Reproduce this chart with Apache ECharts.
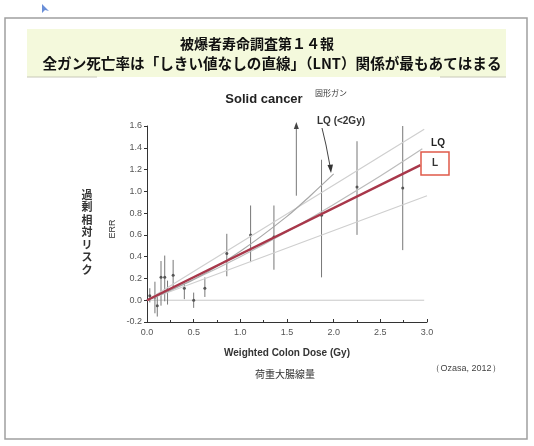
<!DOCTYPE html>
<html>
<head>
<meta charset="utf-8">
<script src="https://cdn.jsdelivr.net/npm/echarts@6/dist/echarts.min.js"></script>
<style>
  html, body { margin: 0; padding: 0; background: #fff; }
  #chart { width: 534px; height: 446px; }
</style>
</head>
<body>
<div id="chart"></div>
<script>
// Dose categories (Gy) with ERR point estimates and 95% CI
const doses    = [0.03, 0.085, 0.11, 0.15, 0.19, 0.22, 0.28, 0.40, 0.50, 0.62, 0.855, 1.11, 1.36, 1.60, 1.87, 2.25, 2.74];
const errPoint = [0.04, 0.03, -0.05, 0.21, 0.21, 0.09, 0.23, 0.11, 0.00, 0.11, 0.43, 0.60, 0.58, null, 0.78, 1.04, 1.03];
const errLower = [-0.02, -0.12, -0.15, -0.05, -0.01, -0.04, 0.12, 0.01, -0.07, 0.03, 0.22, 0.35, 0.28, 0.96, 0.21, 0.60, 0.46];
const errUpper = [0.11, 0.17, 0.04, 0.36, 0.41, 0.18, 0.37, 0.17, 0.07, 0.21, 0.61, 0.87, 0.87, 1.61, 1.29, 1.46, 1.60];
const openTop  = [false, false, false, false, false, false, false, false, false, false, false, false, false, true, false, false, false];

// Fitted models
const linDose = [0, 2.93];
const linErr  = [0, 1.24];
const ciUpperDose = [0, 2.97];
const ciUpperErr  = [0, 1.57];
const ciLowerDose = [0, 3.0];
const ciLowerErr  = [0, 0.96];
const lqDose = [0, 0.5, 1.0, 1.5, 2.0, 2.5, 2.95];
const lqErr  = [0, 0.19, 0.40, 0.63, 0.88, 1.14, 1.39];
const lq2Dose = [0, 0.5, 1.0, 1.5, 1.75, 2.0];
const lq2Err  = [0, 0.19, 0.45, 0.77, 0.96, 1.16];
const zeroDose = [0, 2.97];
const zeroErr  = [0, 0];

// Axis ticks
const xTicks = { min: 0, max: 3.0, step: 0.5 };
const yTicks = { min: -0.2, max: 1.6, step: 0.2 };

const pairs = (xs, ys) => xs.map((x, i) => [x, ys[i]]);
const JP = '"Noto Sans CJK JP", sans-serif';
const LAT = '"Liberation Sans", Arial, sans-serif';

const chart = echarts.init(document.getElementById('chart'), null, { renderer: 'canvas' });

const errData = doses.map((d, i) => [d, errPoint[i] === null ? NaN : errPoint[i], errLower[i], errUpper[i], openTop[i] ? 1 : 0]);

function thinLine(color, width) {
  return { color: color, width: width };
}

chart.setOption({
  animation: false,
  backgroundColor: '#ffffff',
  grid: { left: 147, right: 107, top: 126, bottom: 124 },
  xAxis: {
    type: 'value',
    min: xTicks.min, max: xTicks.max, interval: xTicks.step,
    axisLine: { onZero: false, lineStyle: { color: '#333', width: 1 } },
    axisTick: { inside: true, length: 3, lineStyle: { color: '#333' } },
    minorTick: { show: true, splitNumber: 2, length: 2, lineStyle: { color: '#333' } },
    splitLine: { show: false },
    axisLabel: { color: '#555', fontSize: 9, fontFamily: LAT, margin: 6, formatter: v => v.toFixed(1) }
  },
  yAxis: {
    type: 'value',
    min: yTicks.min, max: yTicks.max, interval: yTicks.step,
    axisLine: { show: true, onZero: false, lineStyle: { color: '#333', width: 1 } },
    axisTick: { show: true, length: 3, lineStyle: { color: '#333' } },
    splitLine: { show: false },
    axisLabel: { color: '#555', fontSize: 9, fontFamily: LAT, margin: 5, formatter: v => v.toFixed(1) }
  },
  series: [
    {
      type: 'line', data: pairs(zeroDose, zeroErr), showSymbol: false, silent: true,
      lineStyle: thinLine('#c8c8c8', 1), z: 1
    },
    {
      type: 'custom',
      data: errData,
      encode: { x: 0, y: [1, 2, 3] },
      clip: false,
      z: 2,
      renderItem: function (params, api) {
        const x = api.value(0);
        const v = api.value(1);
        const lo = api.coord([x, api.value(2)]);
        const hi = api.coord([x, api.value(3)]);
        const children = [{
          type: 'line',
          shape: { x1: lo[0], y1: lo[1], x2: hi[0], y2: hi[1] },
          style: { stroke: '#777', lineWidth: 1 }
        }];
        if (!isNaN(v)) {
          const p = api.coord([x, v]);
          children.push({ type: 'circle', shape: { cx: p[0], cy: p[1], r: 1.5 }, style: { fill: '#555' } });
        }
        if (api.value(4) === 1) {
          children.push({
            type: 'polygon',
            shape: { points: [[hi[0], hi[1] - 3], [hi[0] - 2.5, hi[1] + 4], [hi[0] + 2.5, hi[1] + 4]] },
            style: { fill: '#444' }
          });
        }
        return { type: 'group', children: children };
      }
    },
    {
      type: 'line', data: pairs(ciUpperDose, ciUpperErr), showSymbol: false, silent: true,
      lineStyle: thinLine('#cfcfcf', 1.2), z: 3
    },
    {
      type: 'line', data: pairs(ciLowerDose, ciLowerErr), showSymbol: false, silent: true,
      lineStyle: thinLine('#cfcfcf', 1.2), z: 3
    },
    {
      type: 'line', data: pairs(lqDose, lqErr), showSymbol: false, silent: true, smooth: 0.3,
      lineStyle: thinLine('#bcbcbc', 1.2), z: 3
    },
    {
      type: 'line', data: pairs(lq2Dose, lq2Err), showSymbol: false, silent: true, smooth: 0.3,
      lineStyle: thinLine('#a8a8a8', 1.2), z: 3
    },
    {
      type: 'line', data: pairs(linDose, linErr), showSymbol: false, silent: true,
      lineStyle: thinLine('#a8374a', 2.4), z: 4
    }
  ],
  graphic: [
    // slide frame
    { type: 'rect', shape: { x: 5, y: 18, width: 522, height: 421 }, style: { fill: 'none', stroke: '#a0a0a0', lineWidth: 1.5 }, z: 0 },
    // cursor mark
    { type: 'polygon', shape: { points: [[42, 4], [42, 13], [45, 10], [49, 11]] }, style: { fill: '#6a8fd8' } },
    // title box
    { type: 'rect', shape: { x: 27, y: 29, width: 479, height: 48 }, style: { fill: '#f4f9dc' }, z: 0 },
    { type: 'line', shape: { x1: 27, y1: 77, x2: 97, y2: 77 }, style: { stroke: '#c8c8b8', lineWidth: 1 } },
    { type: 'line', shape: { x1: 440, y1: 77, x2: 506, y2: 77 }, style: { stroke: '#c8c8b8', lineWidth: 1 } },
    { type: 'text', x: 257, y: 44, style: { text: '被爆者寿命調査第１４報', font: 'bold 14px ' + JP, fill: '#111', align: 'center', verticalAlign: 'middle' } },
    { type: 'text', x: 272, y: 63, style: { text: '全ガン死亡率は「しきい値なしの直線」（LNT）関係が最もあてはまる', font: 'bold 14.6px ' + JP, fill: '#111', align: 'center', verticalAlign: 'middle' } },
    // chart heading
    { type: 'text', x: 264, y: 99, style: { text: 'Solid cancer', font: 'bold 13px ' + LAT, fill: '#222', align: 'center', verticalAlign: 'middle' } },
    { type: 'text', x: 331, y: 93, style: { text: '固形ガン', font: '8px ' + JP, fill: '#333', align: 'center', verticalAlign: 'middle' } },
    // model labels
    { type: 'text', x: 341, y: 121, style: { text: 'LQ (<2Gy)', font: 'bold 10px ' + LAT, fill: '#333', align: 'center', verticalAlign: 'middle' } },
    { type: 'polyline', shape: { points: [[322, 128], [326, 145], [330, 166]] }, style: { stroke: '#444', lineWidth: 1, fill: 'none' } },
    { type: 'polygon', shape: { points: [[331, 173], [327.5, 165], [333, 164.5]] }, style: { fill: '#333' } },
    { type: 'text', x: 438, y: 143, style: { text: 'LQ', font: 'bold 10px ' + LAT, fill: '#222', align: 'center', verticalAlign: 'middle' } },
    { type: 'rect', shape: { x: 421, y: 152, width: 28, height: 23 }, style: { fill: '#fff', stroke: '#e05a4a', lineWidth: 1.5 }, z: 10 },
    { type: 'text', x: 435, y: 163.5, style: { text: 'L', font: 'bold 10px ' + LAT, fill: '#333', align: 'center', verticalAlign: 'middle' }, z: 11 },
    // axis titles
    { type: 'text', x: 287, y: 353, style: { text: 'Weighted Colon Dose (Gy)', font: 'bold 10px ' + LAT, fill: '#333', align: 'center', verticalAlign: 'middle' } },
    { type: 'text', x: 285, y: 374, style: { text: '荷重大腸線量', font: '10px ' + JP, fill: '#333', align: 'center', verticalAlign: 'middle' } },
    { type: 'text', x: 466, y: 369, style: { text: '（Ozasa, 2012）', font: '9px ' + LAT, fill: '#444', align: 'center', verticalAlign: 'middle' } },
    { type: 'text', x: 87, y: 232, style: { text: '過\n剰\n相\n対\nリ\nス\nク', font: 'bold 11px ' + JP, lineHeight: 12.5, fill: '#333', align: 'center', verticalAlign: 'middle' } },
    { type: 'text', x: 113, y: 229, rotation: Math.PI / 2, style: { text: 'ERR', font: '9px ' + LAT, fill: '#333', align: 'center', verticalAlign: 'middle' } }
  ]
});
</script>
</body>
</html>
